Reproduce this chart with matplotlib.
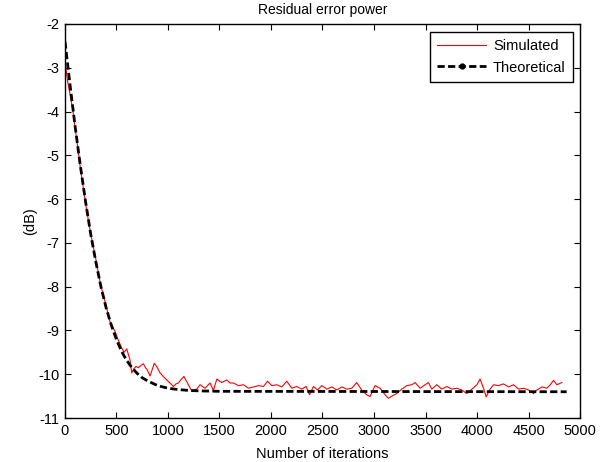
import matplotlib
matplotlib.use("Agg")
import matplotlib.pyplot as plt
from matplotlib.lines import Line2D

plt.rcParams['font.family'] = ['Liberation Sans', 'DejaVu Sans']
plt.rcParams['axes.unicode_minus'] = False

# simulated residual error power (dB)
sim_iter = [0, 25, 50, 75, 100, 125, 150, 200, 250, 300, 345, 389, 437, 486, 514,
            551, 574, 599, 631, 648, 668, 689, 712, 737, 761, 781, 799, 826, 846,
            867, 890, 923, 954, 988, 1019, 1052, 1078, 1101, 1127, 1155, 1177, 1198,
            1230, 1279, 1311, 1360, 1408, 1441, 1474, 1522, 1570, 1603, 1636, 1684,
            1733, 1781, 1830, 1878, 1927, 1966, 2008, 2056, 2105, 2153, 2202, 2250,
            2299, 2341, 2374, 2412, 2451, 2493, 2542, 2590, 2639, 2687, 2736, 2784,
            2832, 2881, 2929, 2962, 3010, 3059, 3108, 3140, 3173, 3221, 3270, 3318,
            3367, 3399, 3448, 3496, 3529, 3561, 3610, 3658, 3707, 3755, 3804, 3852,
            3901, 3950, 3999, 4030, 4063, 4089, 4121, 4160, 4208, 4257, 4306, 4355,
            4403, 4452, 4500, 4549, 4581, 4630, 4678, 4711, 4743, 4775, 4823]
sim_db = [-2.85, -3.30, -3.62, -3.95, -4.40, -4.85, -5.30, -6.10, -6.80, -7.38, -7.95,
          -8.34, -8.80, -9.02, -9.20, -9.40, -9.50, -9.42, -9.67, -9.97, -9.88, -9.82,
          -9.85, -9.80, -9.76, -9.85, -9.90, -10.04, -9.90, -9.75, -9.82, -9.97, -10.05,
          -10.13, -10.20, -10.28, -10.22, -10.20, -10.12, -10.05, -10.15, -10.24, -10.38,
          -10.34, -10.24, -10.32, -10.20, -10.37, -10.11, -10.19, -10.13, -10.20, -10.20,
          -10.26, -10.24, -10.32, -10.29, -10.26, -10.28, -10.16, -10.26, -10.24, -10.29,
          -10.16, -10.32, -10.28, -10.34, -10.28, -10.47, -10.28, -10.36, -10.26, -10.34,
          -10.29, -10.36, -10.29, -10.34, -10.32, -10.19, -10.36, -10.47, -10.51, -10.26,
          -10.32, -10.47, -10.55, -10.50, -10.44, -10.34, -10.26, -10.24, -10.19, -10.32,
          -10.24, -10.19, -10.34, -10.24, -10.34, -10.28, -10.34, -10.32, -10.36, -10.44,
          -10.34, -10.24, -10.11, -10.32, -10.52, -10.36, -10.24, -10.26, -10.22, -10.29,
          -10.24, -10.34, -10.32, -10.36, -10.44, -10.36, -10.29, -10.32, -10.24, -10.14,
          -10.24, -10.19]

# theoretical curve
th_iter = [0, 50, 100, 150, 200, 250, 300, 350, 400, 450, 500, 550, 600, 650, 700,
           750, 800, 900, 1000, 1100, 1200, 1300, 1500, 4870]
th_db = [-2.40, -3.41, -4.37, -5.25, -6.06, -6.80, -7.44, -8.01, -8.49, -8.88, -9.21,
         -9.48, -9.69, -9.85, -9.98, -10.08, -10.15, -10.26, -10.32, -10.35, -10.37,
         -10.38, -10.39, -10.40]

xticks = list(range(0, 5001, 500))
yticks = list(range(-11, -1))

fig = plt.figure(figsize=(6.13, 4.62), dpi=100)
ax = fig.add_axes([0.1060, 0.0952, 0.8402, 0.8529])

ax.plot(sim_iter, sim_db, color='red', lw=0.8)
ax.plot(th_iter, th_db, color='black', lw=2.0, dashes=(2.6, 1.2))

ax.set_xlim(0, 5000)
ax.set_ylim(-11, -2)
ax.set_xticks(xticks)
ax.set_yticks(yticks)
ax.tick_params(direction='in', top=True, right=True, length=4, width=0.8,
               labelsize=10.5, pad=4)
for s in ax.spines.values():
    s.set_linewidth(1.0)

ax.set_title('Residual error power', fontsize=10, pad=7)
ax.set_xlabel('Number of iterations', fontsize=10.5, labelpad=7)
ax.set_ylabel('(dB)', fontsize=10.5, labelpad=1)

handles = [Line2D([], [], color='red', lw=0.8),
           Line2D([], [], color='black', lw=2.0, dashes=(2.6, 1.2), marker='.', markersize=7)]
leg = ax.legend(handles, ['Simulated', 'Theoretical'], loc='upper right',
                bbox_to_anchor=(0.9864, 0.9797), borderaxespad=0, fancybox=False,
                edgecolor='black', framealpha=1, fontsize=10.5, handlelength=3.4,
                handletextpad=0.45, borderpad=0.5, labelspacing=0.5)
leg.get_frame().set_linewidth(1.0)

fig.savefig('out.png', dpi=100)
